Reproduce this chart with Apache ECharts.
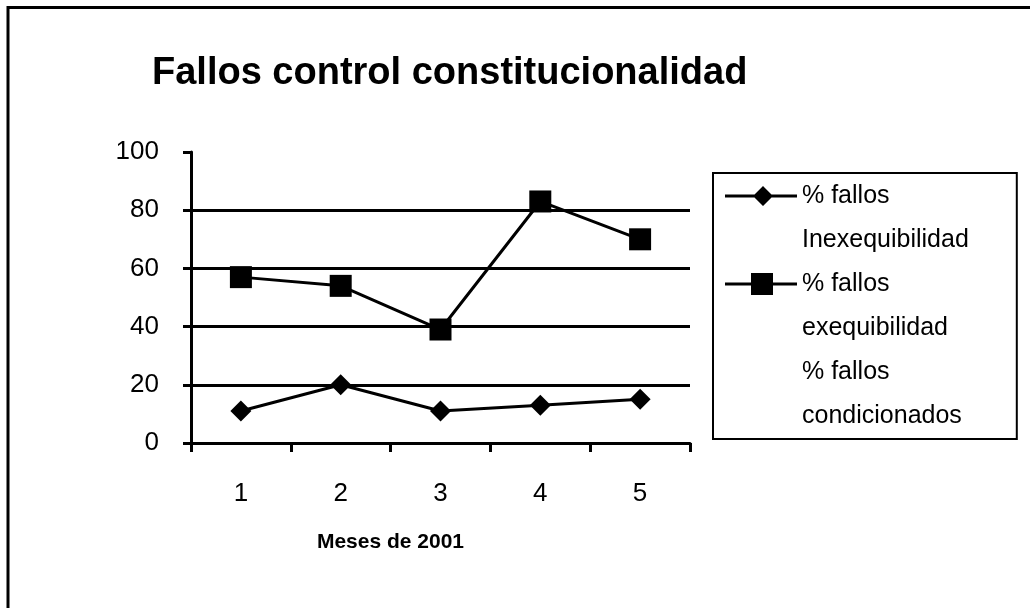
<!DOCTYPE html>
<html>
<head>
<meta charset="utf-8">
<script src="https://cdn.jsdelivr.net/npm/echarts@6/dist/echarts.min.js"></script>
<style>
html,body{margin:0;padding:0;background:#fff;}
#chart{width:1030px;height:608px;}
</style>
</head>
<body>
<div id="chart"></div>
<script>
// ---- data ----
var months = ['1', '2', '3', '4', '5'];
var inexequibilidad = [11, 20, 11, 13, 15];
var exequibilidad = [57, 54, 39, 83, 70];
var condicionados = []; // series not visible in the scanned reference
var yTicks = { min: 0, max: 100, interval: 20 };
var seriesNames = ['% fallos\nInexequibilidad', '% fallos\nexequibilidad', '% fallos\ncondicionados'];
var titleText = 'Fallos control constitucionalidad';
var xAxisName = 'Meses de 2001';

var FONT = '"Liberation Sans", Arial, sans-serif';
var BLACK = '#000';

// legend icons: line + marker in the upper part of a 72x88 box (first text line)
var anchors = 'M0,0 L0.1,0 L0.1,0.1 L0,0.1 Z M0,87.9 L0.1,87.9 L0.1,88 L0,88 Z ';
var iconLine = 'M0,20.5 L72,20.5 L72,23.5 L0,23.5 Z ';
var iconDiamond = 'path://' + anchors + iconLine + 'M38,12 L48,22 L38,32 L28,22 Z';
var iconSquare = 'path://' + anchors + iconLine + 'M26,11 L48,11 L48,33 L26,33 Z';

var chart = echarts.init(document.getElementById('chart'), null, { renderer: 'canvas' });
chart.setOption({
  backgroundColor: '#fff',
  animation: false,
  textStyle: { fontFamily: FONT, color: BLACK },
  graphic: [{
    type: 'rect',
    shape: { x: 8, y: 7.5, width: 1040, height: 620 },
    style: { fill: 'none', stroke: BLACK, lineWidth: 3 },
    silent: true
  }],
  title: {
    text: titleText,
    left: 147,
    top: 50,
    textStyle: { fontFamily: FONT, fontSize: 38, fontWeight: 'bold', color: BLACK }
  },
  legend: {
    orient: 'vertical',
    left: 713,
    top: 173,
    padding: [1, 48, 1, 12],
    itemGap: 0,
    itemWidth: 72,
    itemHeight: 88,
    itemTextGap: 11,
    backgroundColor: '#fff',
    borderColor: BLACK,
    borderWidth: 2,
    selectedMode: false,
    itemStyle: { color: BLACK, borderWidth: 0 },
    textStyle: { fontFamily: FONT, fontSize: 25, color: BLACK, lineHeight: 44 },
    data: [
      { name: seriesNames[0], icon: iconDiamond },
      { name: seriesNames[1], icon: iconSquare },
      { name: seriesNames[2], icon: 'none' }
    ]
  },
  grid: { left: 191, right: 340, top: 152, bottom: 165, containLabel: false },
  xAxis: {
    type: 'category',
    data: months,
    boundaryGap: true,
    name: xAxisName,
    nameLocation: 'middle',
    nameGap: 89,
    nameTextStyle: { fontFamily: FONT, fontSize: 21, fontWeight: 'bold', color: BLACK, padding: [0, 100, 0, 0] },
    axisLine: { show: true, lineStyle: { color: BLACK, width: 3 } },
    axisTick: { show: true, length: 9, interval: 0, alignWithLabel: false, lineStyle: { color: BLACK, width: 3 } },
    axisLabel: { margin: 38, fontSize: 26, color: BLACK, fontFamily: FONT },
    splitLine: { show: false }
  },
  yAxis: {
    type: 'value',
    min: yTicks.min,
    max: yTicks.max,
    interval: yTicks.interval,
    axisLine: { show: true, lineStyle: { color: BLACK, width: 3 } },
    axisTick: { show: true, length: 8, lineStyle: { color: BLACK, width: 3 } },
    axisLabel: { margin: 32, fontSize: 26, color: BLACK, fontFamily: FONT, padding: [5, 0, 0, 0] },
    splitLine: { show: true, showMinLine: false, showMaxLine: false, lineStyle: { color: BLACK, width: 3 } }
  },
  series: [
    {
      name: seriesNames[0],
      type: 'line',
      data: inexequibilidad,
      symbol: 'diamond',
      symbolSize: [21, 21],
      showAllSymbol: true,
      lineStyle: { color: BLACK, width: 3 },
      itemStyle: { color: BLACK, borderWidth: 0 },
      z: 3
    },
    {
      name: seriesNames[1],
      type: 'line',
      data: exequibilidad,
      symbol: 'rect',
      symbolSize: [22, 22],
      showAllSymbol: true,
      lineStyle: { color: BLACK, width: 3 },
      itemStyle: { color: BLACK, borderWidth: 0 },
      z: 3
    },
    {
      name: seriesNames[2],
      type: 'line',
      data: condicionados,
      symbol: 'none',
      lineStyle: { color: BLACK, width: 3 },
      itemStyle: { color: BLACK }
    }
  ]
});
</script>
</body>
</html>
